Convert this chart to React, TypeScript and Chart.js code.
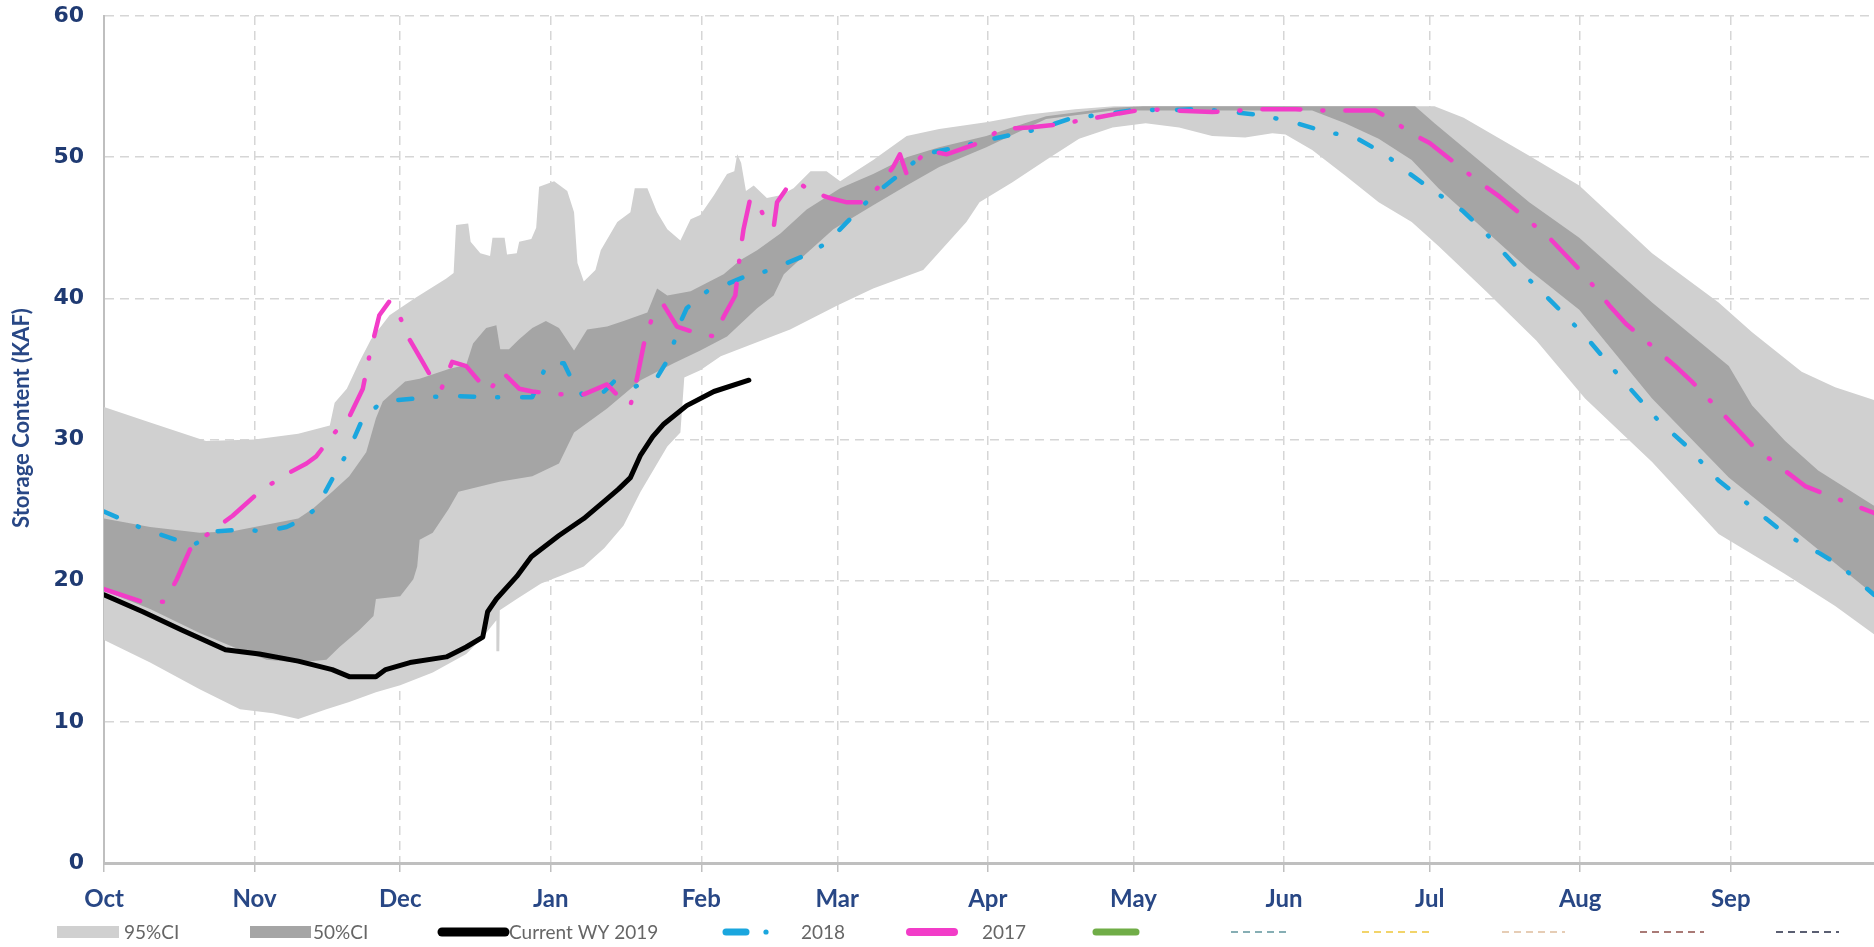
import React, { useEffect, useRef } from 'react';
import { Chart, registerables } from 'chart.js';

Chart.register(...registerables);

type Pair = [number, number];

// ---- axis / labels ----
const monthLabels = ['Oct', 'Nov', 'Dec', 'Jan', 'Feb', 'Mar', 'Apr', 'May', 'Jun', 'Jul', 'Aug', 'Sep'];
const monthStartDays = [0, 31, 61, 92, 123, 151, 182, 212, 243, 273, 304, 335];
const yAxisTitle = 'Storage Content (KAF)';
const seriesNames = ['95%CI', '50%CI', 'Current WY 2019', '2018', '2017'];

// ---- data: [day of water year, storage KAF] ----
const ci95Upper: Pair[] = [
  [0, 32.3], [9.5, 31.2], [21, 29.9], [31, 30.0], [40, 30.4], [46.5, 31.0], [47.5, 32.6], [50, 33.6],
  [52.6, 35.5], [55, 37.1], [58.8, 38.8], [64, 40.0], [70.5, 41.4], [72, 41.8], [72.5, 45.2], [75, 45.3],
  [75.5, 44.0], [77.5, 43.2], [79.5, 43.0], [80, 44.3], [82.5, 44.3], [83, 43.1], [85, 43.2], [85.5, 44.0],
  [88, 44.2], [89, 45.0], [89.6, 47.9], [92.7, 48.3], [95.4, 47.6], [96.8, 46.1], [97.5, 42.5], [98.8, 41.2],
  [101.2, 42.0], [102.3, 43.4], [105.7, 45.4], [108.4, 46.1], [109.3, 47.8], [111.9, 47.8], [113.9, 46.1],
  [116, 44.9], [118.7, 44.1], [120.8, 45.6], [122.8, 45.9], [125.6, 47.3], [128.3, 48.8], [129.8, 49.0],
  [130.4, 50.2], [131.2, 49.6], [132.2, 47.6], [133.8, 48.0], [136.5, 47.1], [139.3, 47.3], [142, 47.8],
  [145.5, 49.0], [148.8, 49.0], [151.6, 48.3], [158.4, 49.8], [165.3, 51.5], [172, 52.0], [182, 52.5],
  [190, 53.0], [200, 53.4], [208, 53.6], [274, 53.6], [280, 52.8], [293.5, 50.1], [303.8, 48.0],
  [318.8, 43.2], [332.5, 39.7], [339.4, 37.6], [349.6, 34.8], [356.5, 33.7], [364.5, 32.8],
];

const ci95Lower: Pair[] = [
  [0, 15.8], [9.5, 14.2], [19.7, 12.3], [28, 10.9], [34.8, 10.6], [40, 10.2], [45.8, 10.9], [50.5, 11.4],
  [56, 12.1], [61, 12.6], [67.7, 13.5], [74.6, 14.8], [78, 16.0], [80.8, 17.2], [80.9, 15.0], [81.4, 15.0],
  [81.5, 17.9], [85, 18.7], [90, 19.8], [93.7, 20.3], [98.8, 21.0], [103, 22.3], [107, 23.9], [110.5, 26.3],
  [116, 29.5], [118.7, 30.5], [119.5, 34.4], [122.8, 34.9], [127, 35.9], [133.8, 36.8], [141.3, 37.8],
  [151, 39.5], [158.4, 40.7], [168.7, 42.0], [177.6, 45.4], [180.3, 46.8], [187, 48.2], [194, 49.8],
  [200.8, 51.3], [207.7, 52.1], [214.5, 52.4], [221.4, 52.1], [228.2, 51.5], [235, 51.4], [240.6, 51.7],
  [243.3, 51.6], [248.8, 50.5], [255.6, 48.7], [262.5, 46.8], [269.3, 45.4], [274.8, 43.7], [284.6, 40.5],
  [295, 37.0], [305, 32.9], [318.8, 28.4], [332.5, 23.3], [346, 20.5], [356.5, 18.2], [364.5, 16.2],
];

const ci50Upper: Pair[] = [
  [0, 24.4], [9.5, 23.8], [19.7, 23.4], [26.5, 23.5], [40, 24.4], [43, 25.1], [47, 26.3], [50.5, 27.4],
  [54, 29.1], [56, 31.5], [57.4, 32.7], [62, 34.1], [65, 34.3], [71, 35.0], [74.6, 35.3], [76, 36.8],
  [78.7, 37.9], [80.8, 38.1], [81.6, 36.4], [83.4, 36.4], [85.5, 37.1], [88.2, 37.9], [91, 38.4], [93.7, 37.9],
  [96.8, 36.3], [99.5, 37.8], [103.6, 38.0], [107, 38.4], [111.9, 39.0], [113.9, 40.7], [116, 40.2],
  [120.8, 40.5], [127.6, 41.7], [131, 42.7], [134.5, 43.4], [139.3, 44.6], [144.7, 46.3], [151.6, 47.8],
  [158.4, 48.8], [165.3, 50.0], [172, 50.7], [181.7, 51.5], [194, 52.9], [207.7, 53.5], [214, 53.6],
  [270, 53.6], [274, 52.4], [293.5, 46.8], [303.8, 44.3], [318.8, 39.7], [334.6, 35.2], [339.4, 32.4],
  [346.2, 29.9], [353, 27.8], [364.5, 25.3],
];

const ci50Lower: Pair[] = [
  [0, 19.3], [9.5, 18.0], [19.7, 16.3], [28, 15.1], [33.5, 14.4], [40, 14.2], [45.8, 14.4], [48.5, 15.3],
  [52.6, 16.5], [55.5, 17.5], [56, 18.7], [61, 18.9], [63.7, 20.1], [64.5, 21.0], [65, 22.9], [67.7, 23.4],
  [71, 25.1], [73, 26.3], [81.4, 27.0], [88.2, 27.4], [93.7, 28.3], [96.8, 30.5], [103.6, 32.2], [110.5, 34.2],
  [117.3, 35.4], [122.8, 36.3], [128.3, 37.3], [134.5, 39.3], [137.9, 40.2], [140, 41.7], [144.7, 43.2],
  [150.2, 44.9], [158.4, 46.6], [165.3, 48.0], [172, 49.3], [181.7, 50.7], [194, 52.7], [207.7, 53.3],
  [248.8, 53.3], [255.6, 52.4], [262.5, 51.3], [269.3, 49.8], [274.8, 47.8], [293.5, 42.0], [303.8, 39.2],
  [318.8, 32.9], [334.6, 27.3], [346.2, 24.1], [364.5, 19.0],
];

const currentWY2019: Pair[] = [
  [0, 19.0], [8, 17.8], [16, 16.5], [25, 15.1], [32, 14.8], [40, 14.3], [47, 13.7], [50.5, 13.2], [56, 13.2],
  [58, 13.7], [63, 14.2], [70.5, 14.6], [74.6, 15.3], [78, 16.0], [79, 17.8], [80.8, 18.7], [85, 20.3],
  [88, 21.7], [93.7, 23.2], [98.8, 24.4], [103.6, 25.8], [106, 26.5], [108.4, 27.3], [110.5, 28.9],
  [113, 30.2], [115.3, 31.1], [120, 32.4], [125.6, 33.4], [132.8, 34.2],
];

const wy2018: Pair[] = [
  [0, 24.9], [7.9, 23.7], [18.3, 22.5], [23, 23.5], [28, 23.6], [33.5, 23.5], [37.6, 23.8], [40, 24.2],
  [43.7, 25.1], [47, 27.2], [50.5, 29.3], [53.3, 31.5], [57.4, 32.7], [64, 32.9], [71, 33.1], [78.7, 33.0],
  [88.2, 33.0], [91.3, 35.4], [94.7, 35.4], [96.1, 34.4], [98.8, 33.0], [103, 33.4], [105, 34.1], [109.1, 33.7],
  [113.9, 34.4], [116, 35.6], [117.3, 36.8], [118.7, 38.3], [120, 39.3], [124.2, 40.5], [128.3, 41.0],
  [131.7, 41.5], [137.2, 42.0], [143.4, 42.9], [148.8, 43.9], [153, 45.4], [158.4, 47.3], [163.9, 48.8],
  [168.7, 50.2], [175.6, 50.7], [181.7, 51.2], [187, 51.6], [192.6, 52.0], [199.5, 52.8], [205.6, 53.0],
  [213, 53.4], [218.6, 53.3], [224, 53.4], [229.6, 53.3], [237.8, 53.0], [241.9, 52.7], [244.7, 52.5],
  [251.5, 51.8], [257.7, 51.4], [263.8, 50.2], [268.6, 48.9], [273, 47.8], [279.8, 46.2], [284.6, 44.6],
  [291.5, 42.0], [298.3, 39.7], [305.1, 37.3], [312, 34.5], [320.2, 31.3], [325.7, 29.6], [332.5, 27.1],
  [339.4, 25.2], [346.2, 23.3], [353, 22.0], [357.8, 21.0], [364.5, 19.0],
];

const wy2017: Pair[] = [
  [0, 19.4], [7.9, 18.5], [12.5, 18.5], [15, 20.1], [17.7, 22.2], [21, 23.2], [26.5, 24.6], [32, 26.3],
  [36.8, 27.4], [41.7, 28.3], [43.7, 28.8], [47, 30.3], [50.5, 31.6], [53.3, 33.6], [54.7, 36.0], [56.7, 38.8],
  [58.8, 39.8], [60.8, 38.8], [62.9, 37.1], [65.6, 35.5], [68.4, 33.8], [69.5, 33.6], [71.7, 35.5], [74.6, 35.2],
  [77.3, 34.1], [79.3, 33.4], [82, 34.8], [85.5, 33.6], [88.2, 33.4], [94, 33.2], [98.8, 33.2], [103.6, 33.9],
  [106.4, 32.9], [108.4, 32.4], [109.8, 34.4], [111.2, 36.8], [113.2, 39.0], [115.3, 39.5], [118, 38.0],
  [121.5, 37.6], [125.6, 37.3], [127.6, 38.7], [130, 40.2], [131, 43.2], [131.7, 44.9], [133.1, 47.1],
  [135.2, 46.3], [136.5, 45.4], [137.9, 45.0], [138.6, 46.8], [140.6, 47.8], [142.7, 48.3], [145.4, 47.6],
  [149.5, 47.1], [153, 46.8], [156.4, 46.8], [159.8, 48.0], [162.5, 49.3], [163.9, 50.2], [165.3, 48.8],
  [169.4, 50.5], [173.5, 50.2], [177.6, 50.7], [181.7, 51.2], [184.4, 52.0], [190.6, 52.1], [196, 52.3],
  [202.9, 52.7], [209, 53.1], [214.5, 53.4], [220.7, 53.3], [228.2, 53.2], [233.7, 53.3], [238.5, 53.4],
  [245.4, 53.4], [251.5, 53.3], [256.3, 53.3], [261.8, 53.3], [265.9, 52.5], [268.6, 51.8], [273, 51.0],
  [283.3, 48.2], [287.4, 47.2], [297.6, 44.3], [304.5, 41.8], [310, 39.5], [313.4, 38.2], [323.6, 35.2],
  [327, 34.1], [335.9, 30.9], [339.7, 29.5], [350.3, 26.7], [354.7, 26.1], [364.5, 24.8],
];

// ---- styles ----
const C = {
  light: '#D0D0D0',
  dark: '#A5A5A5',
  black: '#000000',
  cyan: '#1AA6DE',
  magenta: '#F23CC8',
  green: '#70AD47',
  grid: '#D6D6D6',
  axis: '#BFBFBF',
  tickText: '#1F3A72',
  labelText: '#284785',
  legendText: '#666666',
};

const toPoints = (arr: Pair[]) => arr.map(([x, y]) => ({ x, y }));

type LegendItem = {
  kind: 'box' | 'line' | 'dashdot' | 'dash';
  color: string;
  x0: number;
  x1: number;
  width?: number;
  label?: string;
  textX?: number;
};

const legendItems: LegendItem[] = [
  { kind: 'box', color: C.light, x0: 57, x1: 119, label: seriesNames[0], textX: 124 },
  { kind: 'box', color: C.dark, x0: 250, x1: 311, label: seriesNames[1], textX: 313 },
  { kind: 'line', color: C.black, x0: 442, x1: 505, width: 9, label: seriesNames[2], textX: 509 },
  { kind: 'dashdot', color: C.cyan, x0: 726, x1: 766, width: 7, label: seriesNames[3], textX: 801 },
  { kind: 'line', color: C.magenta, x0: 910, x1: 954, width: 8, label: seriesNames[4], textX: 982 },
  { kind: 'line', color: C.green, x0: 1096, x1: 1136, width: 7 },
  { kind: 'dash', color: '#86AEB4', x0: 1231, x1: 1291, width: 2 },
  { kind: 'dash', color: '#F2D46A', x0: 1362, x1: 1433, width: 2 },
  { kind: 'dash', color: '#E6CDB5', x0: 1502, x1: 1565, width: 2 },
  { kind: 'dash', color: '#A97A76', x0: 1640, x1: 1704, width: 2 },
  { kind: 'dash', color: '#5A5F72', x0: 1776, x1: 1839, width: 2 },
];

const LEGEND_Y = 932;

const overlayPlugin = {
  id: 'overlay',
  afterDraw(chart: any) {
    const ctx: CanvasRenderingContext2D = chart.ctx;
    // y axis title
    ctx.save();
    ctx.translate(22, 418);
    ctx.rotate(-Math.PI / 2);
    ctx.font = 'bold 22px Lato, sans-serif';
    ctx.fillStyle = C.labelText;
    ctx.textAlign = 'center';
    ctx.textBaseline = 'middle';
    ctx.fillText(yAxisTitle, 0, 0);
    ctx.restore();

    // legend
    for (const it of legendItems) {
      ctx.save();
      if (it.kind === 'box') {
        ctx.fillStyle = it.color;
        ctx.fillRect(it.x0, LEGEND_Y - 6, it.x1 - it.x0, 12);
      } else if (it.kind === 'line') {
        ctx.strokeStyle = it.color;
        ctx.lineWidth = it.width || 6;
        ctx.lineCap = 'round';
        ctx.beginPath();
        ctx.moveTo(it.x0, LEGEND_Y);
        ctx.lineTo(it.x1, LEGEND_Y);
        ctx.stroke();
      } else if (it.kind === 'dashdot') {
        ctx.strokeStyle = it.color;
        ctx.lineWidth = it.width || 6;
        ctx.lineCap = 'round';
        ctx.beginPath();
        ctx.moveTo(it.x0, LEGEND_Y);
        ctx.lineTo(it.x0 + 20, LEGEND_Y);
        ctx.stroke();
        ctx.fillStyle = it.color;
        ctx.beginPath();
        ctx.arc(it.x1, LEGEND_Y, 2.6, 0, Math.PI * 2);
        ctx.fill();
      } else {
        ctx.strokeStyle = it.color;
        ctx.lineWidth = it.width || 2;
        ctx.setLineDash([7, 5]);
        ctx.beginPath();
        ctx.moveTo(it.x0, LEGEND_Y);
        ctx.lineTo(it.x1, LEGEND_Y);
        ctx.stroke();
      }
      if (it.label) {
        ctx.setLineDash([]);
        ctx.font = '19px Lato, sans-serif';
        ctx.fillStyle = C.legendText;
        ctx.textAlign = 'left';
        ctx.textBaseline = 'middle';
        ctx.fillText(it.label, it.textX || it.x1 + 6, LEGEND_Y + 1);
      }
      ctx.restore();
    }
  },
};

const bandBase = {
  borderColor: 'rgba(0,0,0,0)',
  borderWidth: 0,
  pointRadius: 0,
  tension: 0,
};

export default function App() {
  const ref = useRef<HTMLCanvasElement>(null);

  useEffect(() => {
    if (!ref.current) return;
    const chart = new Chart(ref.current, {
      type: 'line',
      data: {
        datasets: [
          { ...bandBase, label: seriesNames[0], data: toPoints(ci95Upper), fill: 1, backgroundColor: C.light, order: 10 },
          { ...bandBase, label: seriesNames[0] + ' low', data: toPoints(ci95Lower), fill: false, order: 11 },
          { ...bandBase, label: seriesNames[1], data: toPoints(ci50Upper), fill: 3, backgroundColor: C.dark, order: 8 },
          { ...bandBase, label: seriesNames[1] + ' low', data: toPoints(ci50Lower), fill: false, order: 9 },
          {
            label: seriesNames[2], data: toPoints(currentWY2019), borderColor: C.black, borderWidth: 5,
            borderCapStyle: 'round', borderJoinStyle: 'round', pointRadius: 0, fill: false, order: 3,
          },
          {
            label: seriesNames[3], data: toPoints(wy2018), borderColor: C.cyan, borderWidth: 4.5,
            borderDash: [14, 23, 1, 24], borderCapStyle: 'round', borderJoinStyle: 'round', pointRadius: 0, fill: false, order: 2,
          },
          {
            label: seriesNames[4], data: toPoints(wy2017), borderColor: C.magenta, borderWidth: 4.5,
            borderDash: [38, 22, 1, 22], borderCapStyle: 'round', borderJoinStyle: 'round', pointRadius: 0, fill: false, order: 1,
          },
        ] as any,
      },
      options: {
        responsive: false,
        devicePixelRatio: 1,
        animation: false,
        layout: { padding: { top: 16, left: 0, right: 0, bottom: 0 } },
        plugins: { legend: { display: false }, tooltip: { enabled: false }, title: { display: false } },
        elements: { point: { radius: 0 }, line: { tension: 0 } },
        scales: {
          x: {
            type: 'linear',
            min: 0,
            max: 364.5,
            afterBuildTicks: (axis: any) => {
              axis.ticks = monthStartDays.map((v) => ({ value: v }));
            },
            afterFit: (scale: any) => {
              scale.height = 84;
              scale.paddingLeft = 0;
              scale.paddingRight = 0;
            },
            ticks: {
              autoSkip: false,
              maxRotation: 0,
              minRotation: 0,
              padding: 13,
              color: C.labelText,
              font: { family: 'Lato, sans-serif', weight: 'bold', size: 24 },
              callback: (_v: any, i: number) => monthLabels[i],
            },
            grid: {
              color: C.grid,
              lineWidth: 1.5,
              drawTicks: true,
              tickLength: 9,
              tickColor: C.axis,
              tickWidth: 1.5,
            },
            border: { display: true, color: C.axis, width: 3, dash: [9, 6] },
          },
          y: {
            type: 'linear',
            min: 0,
            max: 60,
            afterFit: (scale: any) => {
              scale.width = 104;
              scale.paddingTop = 0;
              scale.paddingBottom = 0;
            },
            ticks: {
              stepSize: 10,
              padding: 20,
              color: C.tickText,
              font: { family: '"DejaVu Sans", sans-serif', weight: 'bold', size: 22 },
            },
            grid: { color: C.grid, lineWidth: 1.5, drawTicks: false },
            border: { display: true, color: C.axis, width: 2, dash: [9, 6] },
          },
        },
      } as any,
      plugins: [overlayPlugin],
    });
    return () => chart.destroy();
  }, []);

  return (
    <div style={{ position: 'fixed', left: 0, top: 0, width: 1874, height: 947, background: '#ffffff' }}>
      <canvas ref={ref} width={1874} height={947} style={{ display: 'block', width: 1874, height: 947 }} />
    </div>
  );
}
